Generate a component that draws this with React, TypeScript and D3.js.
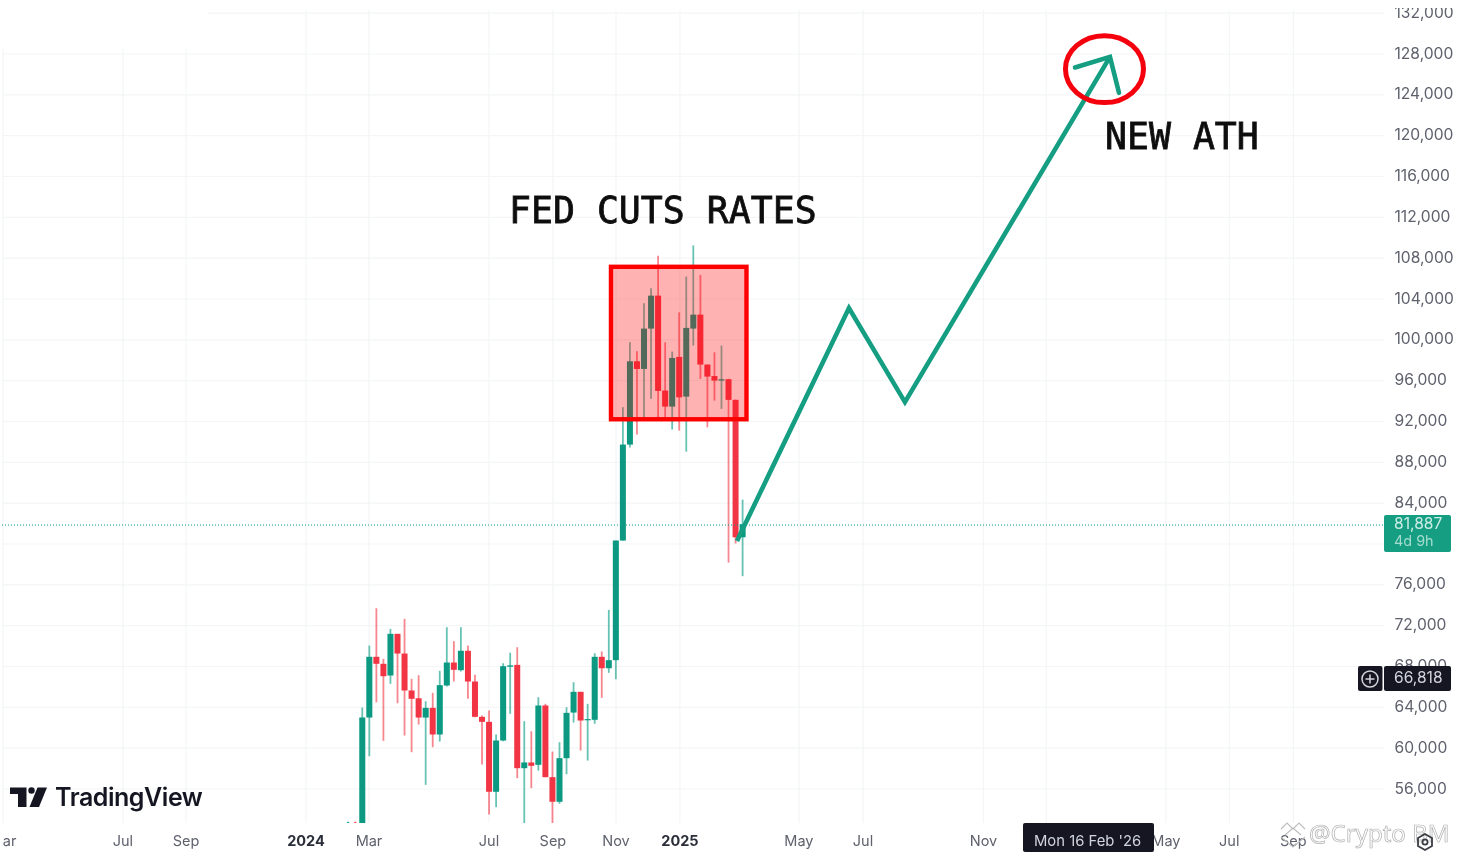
import React from "react";
import { scaleLinear, range as d3range, line } from "d3";

// weekly candles
const opens = [
  52650, 52700, 52600, 62954, 68900, 68213, 67070, 71150, 69220, 65600, 64840, 62950, 63900, 61290,
  66090, 68340, 67590, 69490, 66480, 63020, 62530, 55680, 60700, 67930, 68110, 57990, 58550, 58320,
  64130, 57110, 54700, 58970, 63440, 65470, 62710, 62730, 68900, 67780, 68570, 80290, 89690, 97850,
  97100, 101050, 104280, 94980, 93410, 98280, 94390, 101050, 102420, 97530, 96400, 95960, 96090,
  94070, 80610,
];
const closes = [
  52700, 52650, 62954, 68900, 68213, 67000, 71150, 69220, 65600, 64785, 62950, 63900, 61290, 66120,
  68340, 67625, 69490, 66480, 63020, 62530, 55680, 60700, 67980, 68060, 57990, 58550, 58220, 64130,
  57110, 54700, 58970, 63410, 65470, 62660, 62800, 68900, 67780, 68570, 80290, 89690, 97850, 97100,
  101050, 104280, 94950, 93410, 98180, 94320, 101120, 102420, 97530, 96350, 95960, 96090, 94070,
  80610, 81887,
];
const highs = [
  52750, 52750, 63930, 70005, 73660, 68700, 71640, 71150, 72620, 66740, 67100, 64550, 65370, 67530,
  71800, 70430, 71800, 70000, 67135, 63150, 63640, 61290, 68270, 69290, 69840, 62590, 61610, 64940,
  64295, 59620, 60535, 63960, 66410, 65470, 64295, 69250, 69420, 73500, 80290, 93350, 99710, 98830,
  103530, 105000, 108200, 99710, 98800, 102650, 106150, 109200, 106300, 97530, 98730, 99390, 96150,
  94100, 84300,
];
const lows = [
  52600, 52600, 52500, 59160, 64450, 60670, 66250, 64350, 61190, 59555, 62270, 56360, 60045, 60600,
  65990, 66480, 67460, 64785, 62980, 58350, 53450, 54170, 60630, 63315, 57010, 52600, 56030, 57760,
  57100, 52600, 54500, 57400, 62460, 59720, 58740, 62340, 64880, 67330, 66700, 80290, 89400, 90670,
  92365, 94170, 92240, 92240, 91160, 91060, 89000, 99390, 96120, 91380, 94000, 93190, 78130, 80000,
  76800,
];

const priceTicks = d3range(56000, 132001, 4000);

const timeLabels = ["Mar", "Jul", "Sep", "2024", "Mar", "Jul", "Sep", "Nov", "2025", "May", "Jul", "Nov", "May", "Jul", "Sep"];
// candle position of each label (index on the weekly scale)
const timeIndex = [-49, -31.98, -23.03, -5.99, 2.95, 19.99, 29.07, 38.03, 47.1, 64, 73.1, 90.2, 116.1, 125.1, 134.2];
const boldLabels = ["2024", "2025"];
const extraGridIndex = [99.1]; // Jan '26, label sits under the crosshair tag

// drawn on top of the chart
const boxRange = { i0: 37.31, i1: 56.55, p0: 92170, p1: 107105 };
const projection: [number, number][] = [
  [55.2, 80240],
  [71.1, 103060],
  [79.05, 93850],
  [108.16, 127670],
];
const arrowHead: [number, number][] = [
  [103.2, 126630],
  [108.16, 127670],
  [109.44, 124150],
];
const ring = { i: 107.38, di: 5.54, p: 126470, dp: 3280 };

const GREEN = "#089981";
const RED = "#F23645";
const GRID = "#f3f5f6";
const AXIS_TEXT = "#5f626d";
const SANS = "Inter, 'Noto Sans', sans-serif";

const x = scaleLinear().domain([0, 100]).range([348.2, 1052.5]);
const y = scaleLinear().domain([56000, 128000]).range([788.5, 53.5]);

const priceLine = line<[number, number]>()
  .x((d) => x(d[0]))
  .y((d) => y(d[1]));

const Candles = () => (
  <g clipPath="url(#plot)">
    {opens.map((open, i) => {
      const close = closes[i];
      const up = close >= open;
      const color = up ? GREEN : RED;
      const top = y(Math.max(open, close));
      const bottom = y(Math.min(open, close));
      const small = i < 2;
      return (
        <g key={i}>
          <line
            x1={x(i)}
            x2={x(i)}
            y1={y(highs[i])}
            y2={y(lows[i])}
            stroke={color}
            strokeOpacity={0.6}
            strokeWidth={1.8}
          />
          <rect
            x={x(i) - (small ? 1 : 3)}
            width={small ? 2 : 6}
            y={top}
            height={Math.max(bottom - top, 1.2)}
            fill={color}
          />
        </g>
      );
    })}
  </g>
);

const Logo = () => (
  <g fill="#131722">
    <path d="M10 787.5H26.5V807H18V794H10Z" />
    <circle cx={31.5} cy={790.5} r={3.2} />
    <path d="M37.5 787.5H47L39 807H29.5Z" />
    <text x={55} y={806} fontFamily={SANS} fontSize={25} fontWeight={600} letterSpacing={-0.45}>
      TradingView
    </text>
  </g>
);

const Watermark = () => (
  <g>
    <path
      d="M1281 829L1287 823L1293 829L1299 823L1305 829M1285 835L1293 828L1301 835M1281 837L1293 847L1305 837"
      fill="none"
      stroke="#bdbdbd"
      strokeWidth={1.1}
    />
    <text
      x={1309}
      y={842}
      fontFamily="'Noto Sans', sans-serif"
      fontSize={24}
      fill="#ffffff"
      fillOpacity={0.6}
      stroke="#b0b0b0"
      strokeWidth={0.7}
    >
      @Crypto BM
    </text>
    <path
      d="M1425 834L1432 838V846L1425 850L1418 846V838Z"
      fill="none"
      stroke="#3a3d45"
      strokeWidth={1.8}
    />
    <circle cx={1425} cy={842} r={2.6} fill="none" stroke="#3a3d45" strokeWidth={1.8} />
  </g>
);

const Callout = ({ tx, ty, children }: { tx: number; ty: number; children: string }) => (
  <text
    x={tx}
    y={ty}
    fontFamily="'DejaVu Sans Mono', monospace"
    fontSize={36.5}
    fill="#111"
    stroke="#111"
    strokeWidth={0.8}
  >
    {children}
  </text>
);

export default function App() {
  const gridXs = [...timeIndex, ...extraGridIndex].map((i) => x(i));
  const last = y(closes[closes.length - 1]) + 0.8;
  return (
    <svg
      width={1457}
      height={856}
      style={{ position: "fixed", left: 0, top: 0, background: "#fff" }}
    >
      <defs>
        <clipPath id="plot">
          <rect x={0} y={0} width={1384} height={823} />
        </clipPath>
        <clipPath id="scale">
          <rect x={1384} y={8} width={73} height={848} />
        </clipPath>
        <clipPath id="timeaxis">
          <rect x={3} y={824} width={1400} height={32} />
        </clipPath>
        <filter id="soft" x="0" y="0" width="100%" height="100%">
          <feGaussianBlur stdDeviation={0.45} />
        </filter>
      </defs>
      <g filter="url(#soft)">
        {/* grid */}
        {priceTicks.map((p) => (
          <line
            key={p}
            x1={p === 132000 ? 208 : 2}
            x2={1384}
            y1={y(p) + 0.5}
            y2={y(p) + 0.5}
            stroke={GRID}
            strokeWidth={1.2}
          />
        ))}
        {gridXs.map((gx, i) => (
          <line
            key={i}
            x1={gx}
            x2={gx}
            y1={gx < 208 ? 49 : 10}
            y2={823}
            stroke={GRID}
            strokeWidth={1.2}
          />
        ))}

        <Candles />

        {/* price line */}
        <line x1={2} x2={1384} y1={last} y2={last} stroke={GREEN} strokeWidth={1} strokeDasharray="1 2" />

        {/* annotations */}
        <rect
          x={x(boxRange.i0)}
          y={y(boxRange.p1)}
          width={x(boxRange.i1) - x(boxRange.i0)}
          height={y(boxRange.p0) - y(boxRange.p1)}
          fill="rgba(255,0,0,0.3)"
          stroke="#ff0000"
          strokeWidth={4.4}
        />
        <path d={priceLine(projection) ?? ""} fill="none" stroke="#129e82" strokeWidth={4.6} />
        <path
          d={priceLine(arrowHead) ?? ""}
          fill="none"
          stroke="#129e82"
          strokeWidth={4.6}
          strokeLinecap="round"
        />
        <ellipse
          cx={x(ring.i)}
          cy={y(ring.p)}
          rx={x(ring.di) - x(0)}
          ry={y(ring.p - ring.dp) - y(ring.p)}
          fill="none"
          stroke="#f5000f"
          strokeWidth={5}
        />
        <Callout tx={509} ty={222.5}>FED CUTS RATES</Callout>
        <Callout tx={1105} ty={148.5}>NEW ATH</Callout>

        <Logo />

        {/* price scale */}
        <g clipPath="url(#scale)" fontFamily={SANS} fontSize={15.6} fill={AXIS_TEXT}>
          {priceTicks.map((p) => (
            <text key={p} x={1394.5} y={y(p) + 5} textAnchor="start">
              {p.toLocaleString("en-US")}
            </text>
          ))}
        </g>

        {/* time scale */}
        <g clipPath="url(#timeaxis)" fontFamily={SANS} fontSize={14.5} fill={AXIS_TEXT} textAnchor="middle">
          {timeLabels.map((t, i) => (
            <text
              key={i}
              x={x(timeIndex[i])}
              y={846}
              fontWeight={boldLabels.includes(t) ? 700 : 400}
              fill={boldLabels.includes(t) ? "#2a2e39" : AXIS_TEXT}
            >
              {t}
            </text>
          ))}
        </g>

        {/* last price tag */}
        <rect x={1384} y={515} width={67} height={37} rx={2} fill="#129e82" />
        <text x={1394} y={529} fontFamily={SANS} fontSize={15.6} fill="#cdece4">
          81,887
        </text>
        <text x={1394} y={546} fontFamily={SANS} fontSize={14.4} fill="#a5dccf">
          4d 9h
        </text>

        {/* crosshair tag */}
        <rect x={1358} y={666} width={24.5} height={25} rx={2} fill="#131722" />
        <circle cx={1370} cy={679} r={8} fill="none" stroke="#d4d6dc" strokeWidth={1.5} />
        <path d="M1365.5 679H1374.5M1370 674.5V683.5" stroke="#d4d6dc" strokeWidth={1.5} />
        <rect x={1384} y={666} width={67} height={25} rx={2} fill="#131722" />
        <text x={1394} y={683} fontFamily={SANS} fontSize={15.6} fill="#d1d4dc">
          66,818
        </text>

        <rect x={1023} y={823} width={131} height={29} rx={2} fill="#131722" />
        <text x={1034} y={846} fontFamily={SANS} fontSize={14.8} fill="#d1d4dc">
          Mon 16 Feb '26
        </text>

        <Watermark />
      </g>
    </svg>
  );
}
